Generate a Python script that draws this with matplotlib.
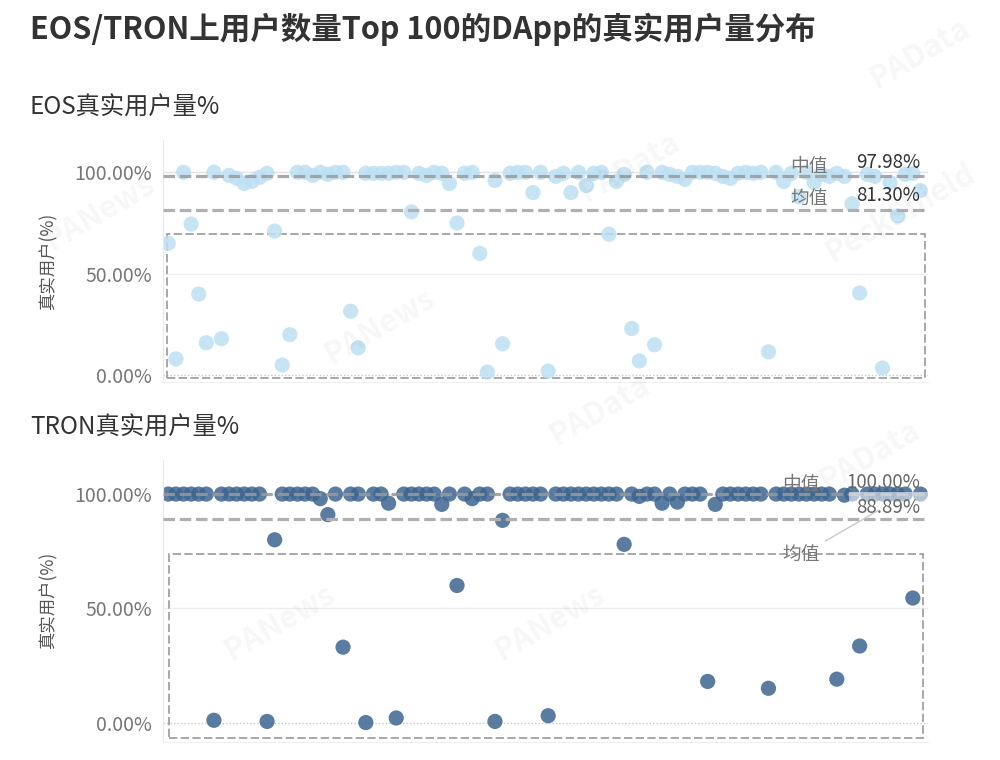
import numpy as np
import matplotlib
matplotlib.use("Agg")
import matplotlib.pyplot as plt
from matplotlib.patches import Rectangle

plt.rcParams['font.family'] = ['Noto Sans CJK SC', 'DejaVu Sans']

# ---- data: share of real users (%) for the top 100 DApps, in rank order ----
eos_pct = [65, 8, 100, 74.5, 40, 16, 100, 18, 98.5, 97,
           94.5, 95.5, 97.5, 99.5, 71, 5, 20, 100, 100, 98.5,
           100, 99, 100, 100, 31.5, 13.5, 99.5, 99.5, 99.5, 99.5,
           100, 100, 80.5, 99.5, 98.5, 100, 99.5, 94.5, 75, 99.5,
           100, 60, 1.5, 96, 15.5, 99.5, 100, 100, 90, 100,
           2, 98, 99.5, 90, 100, 93.5, 99.5, 100, 69.5, 95.5,
           99, 23, 7, 100, 15, 100, 99, 98, 96.5, 100,
           100, 100, 99.5, 98, 97, 99.5, 100, 99.5, 100, 11.5,
           100, 95.5, 99.5, 88, 100, 95, 99, 98, 99.5, 98,
           84.5, 40.5, 99, 98, 3.5, 95, 78.5, 99, 99.5, 91]

tron_pct = [100, 100, 100, 100, 100, 100, 1, 100, 100, 100,
            100, 100, 100, 0.5, 80, 100, 100, 100, 100, 100,
            98, 91, 100, 33, 100, 100, 0, 100, 100, 96,
            2, 100, 100, 100, 100, 100, 95.5, 100, 60, 100,
            98, 100, 100, 0.5, 88.5, 100, 100, 100, 100, 100,
            3, 100, 100, 100, 100, 100, 100, 100, 100, 100,
            78, 100, 99, 100, 100, 96, 100, 96.5, 100, 100,
            100, 18, 95.5, 100, 100, 100, 100, 100, 100, 15,
            100, 100, 100, 100, 100, 100, 100, 100, 19, 99.5,
            100, 33.5, 100, 100, 100, 100, 100, 100, 54.5, 100]

eos_median, eos_mean = 97.98, 81.30
tron_median, tron_mean = 100.00, 88.89
yticks = [0, 50, 100]
ytick_labels = ['0.00%', '50.00%', '100.00%']

fig = plt.figure(figsize=(10, 7.6), dpi=100)

fig.text(0.030, 0.962, 'EOS/TRON上用户数量Top 100的DApp的真实用户量分布',
         fontsize=22, fontweight='bold', color='#333333', va='center')
fig.text(0.030, 0.859, 'EOS真实用户量%', fontsize=17.5, color='#333333', va='center')
fig.text(0.030, 0.437, 'TRON真实用户量%', fontsize=17.5, color='#333333', va='center')


def draw_panel(ax, vals, color, alpha, median, mean, ylim, box):
    x = np.arange(len(vals))
    ax.set_xlim(-0.7, 100.0)
    ax.set_ylim(*ylim)
    # reference lines
    ax.axhline(50, color='#eeeeee', lw=1, zorder=0)
    ax.axhline(100, color='#e2e2e2', lw=1, zorder=0)
    ax.axhline(0, color='#c8c8c8', lw=1, ls=(0, (1, 1.5)), zorder=0)
    ax.scatter(x, vals, s=120, color=color, alpha=alpha, edgecolors='none', zorder=2)
    ax.axhline(median, color='#9a9a9a', lw=2.3, ls=(0, (3.6, 1.5)), alpha=0.85, zorder=3)
    ax.axhline(mean, color='#b0b0b0', lw=2.3, ls=(0, (3.6, 1.5)), zorder=3)
    # dashed box around low-share apps
    ax.add_patch(Rectangle((box[0], box[1]), box[2] - box[0], box[3] - box[1],
                           fill=False, ec='#9a9a9a', lw=1.2, ls=(0, (5, 2)), zorder=1))
    ax.set_yticks(yticks)
    ax.set_yticklabels(ytick_labels, fontsize=14, color='#777777')
    ax.set_xticks([])
    ax.tick_params(axis='y', length=0, pad=8)
    for s in ['top', 'right']:
        ax.spines[s].set_visible(False)
    ax.spines['left'].set_color('#e8e8e8')
    ax.spines['bottom'].set_color('#f0f0f0')
    ax.set_ylabel('真实用户(%)', fontsize=12.5, color='#555555', labelpad=12)


ax1 = fig.add_axes([0.163, 0.497, 0.765, 0.319])
draw_panel(ax1, eos_pct, '#bde0f4', 0.85, eos_median, eos_mean, (-3.5, 116),
           (-0.2, -1.6, 99.6, 69.5))
ax1.text(0.82, 0.888, '中值', transform=ax1.transAxes, fontsize=13.5, color='#777777', va='center')
ax1.text(0.99, 0.905, '%.2f%%' % eos_median, transform=ax1.transAxes, fontsize=13.5,
         color='#333333', va='center', ha='right')
ax1.text(0.82, 0.758, '均值', transform=ax1.transAxes, fontsize=13.5, color='#777777', va='center')
ax1.text(0.99, 0.769, '%.2f%%' % eos_mean, transform=ax1.transAxes, fontsize=13.5,
         color='#333333', va='center', ha='right')

ax2 = fig.add_axes([0.163, 0.024, 0.765, 0.371])
draw_panel(ax2, tron_pct, '#3d6591', 0.85, tron_median, tron_mean, (-8.4, 115),
           (0.1, -6.6, 99.3, 73.6))
ax2.add_patch(Rectangle((0.897, 0.83), 0.11, 0.055, transform=ax2.transAxes,
                        fc='white', ec='none', alpha=0.55, zorder=4))
ax2.text(0.81, 0.911, '中值', transform=ax2.transAxes, fontsize=13.5, color='#777777', va='center', zorder=5)
ax2.text(0.99, 0.918, '%.2f%%' % tron_median, transform=ax2.transAxes, fontsize=13.5,
         color='#666666', va='center', ha='right', zorder=5)
ax2.text(0.99, 0.830, '%.2f%%' % tron_mean, transform=ax2.transAxes, fontsize=13.5,
         color='#666666', va='center', ha='right', zorder=5)
ax2.annotate('均值', xy=(0.935, 0.82), xytext=(0.81, 0.663),
             xycoords='axes fraction', textcoords='axes fraction',
             fontsize=13.5, color='#777777', va='center', zorder=5,
             arrowprops=dict(arrowstyle='-', color='#c8c8c8', lw=1, shrinkA=2, shrinkB=0))

# faint watermarks
marks = [('PANews', 0.10, 0.72), ('PANews', 0.38, 0.57), ('PAData', 0.63, 0.78),
         ('PAData', 0.60, 0.46), ('PANews', 0.28, 0.18), ('PANews', 0.55, 0.18),
         ('PAData', 0.87, 0.40), ('PeckShield', 0.90, 0.72), ('PAData', 0.92, 0.93)]
for t, fx, fy in marks:
    fig.text(fx, fy, t, fontsize=22, fontweight='bold', color='#000000', alpha=0.035,
             rotation=30, ha='center', va='center')

fig.savefig('out.png', dpi=100)
